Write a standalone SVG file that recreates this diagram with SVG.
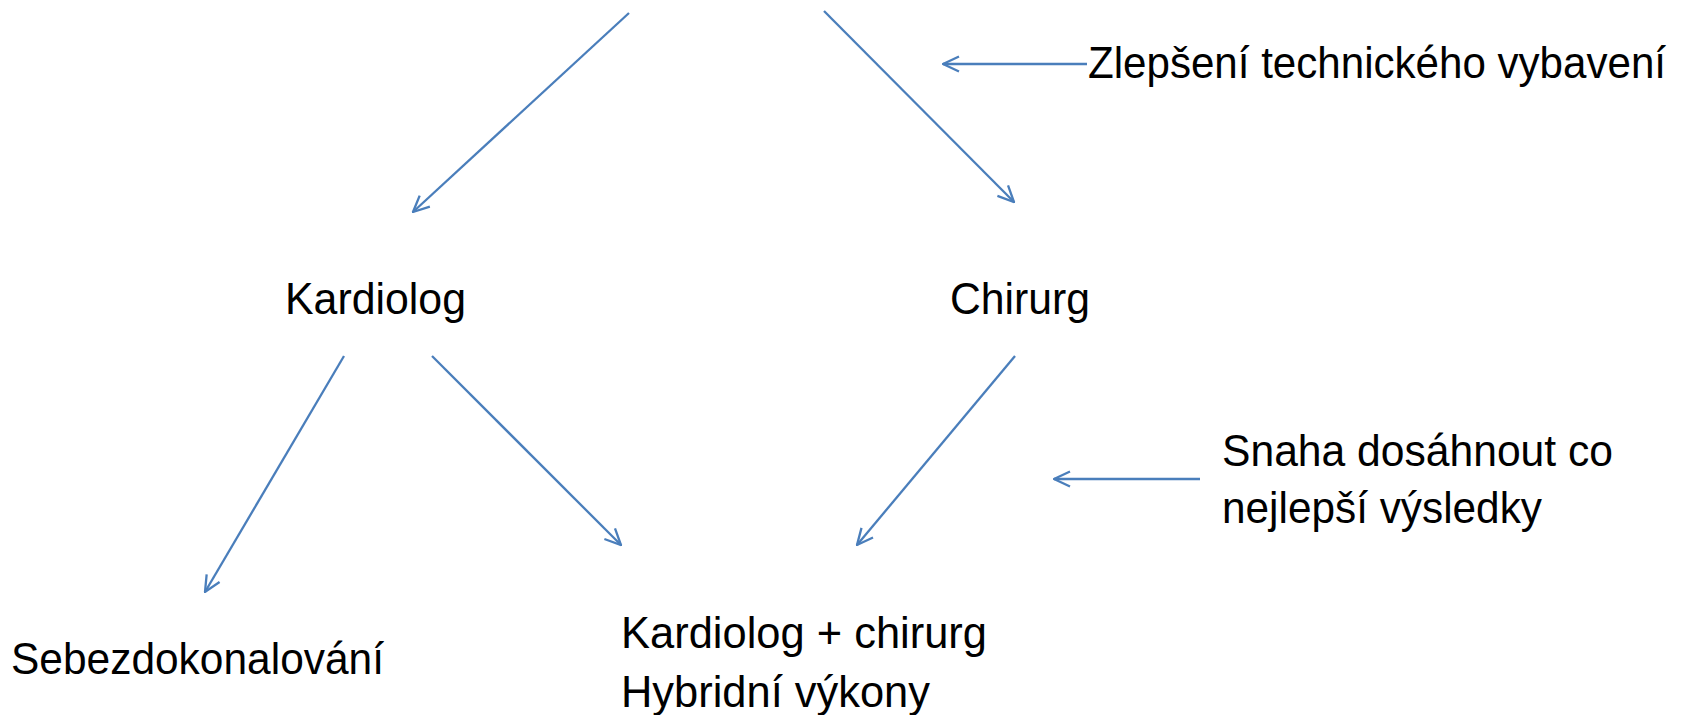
<svg xmlns="http://www.w3.org/2000/svg" width="1700" height="715" viewBox="0 0 1700 715">
<style>
.t{font-family:"Liberation Sans",Arial,sans-serif;font-size:44px;fill:#000}
.c{stroke:#4A7EBB;stroke-width:2.3;fill:none}
</style>
<defs>
<marker id="ah" viewBox="0 0 18 18" refX="17" refY="9" markerWidth="18" markerHeight="18" markerUnits="userSpaceOnUse" orient="auto">
<path d="M1,1.5 L17,9 L1,16.5" fill="none" stroke="#4A7EBB" stroke-width="2.3"/>
</marker>
</defs>
<rect width="1700" height="715" fill="#fff"/>
<g id="connectors">
<line class="c" x1="629" y1="13" x2="413" y2="212" marker-end="url(#ah)"/>
<line class="c" x1="824" y1="11" x2="1014" y2="202" marker-end="url(#ah)"/>
<line class="c" x1="1087" y1="64" x2="943" y2="64" marker-end="url(#ah)"/>
<line class="c" x1="344" y1="356" x2="205" y2="592" marker-end="url(#ah)"/>
<line class="c" x1="432" y1="356" x2="621" y2="545" marker-end="url(#ah)"/>
<line class="c" x1="1015" y1="356" x2="857" y2="545" marker-end="url(#ah)"/>
<line class="c" x1="1200" y1="479" x2="1054" y2="479" marker-end="url(#ah)"/>
</g>
<g id="zlepseni"><text class="t" x="1088" y="78" textLength="578" lengthAdjust="spacingAndGlyphs">Zlepšení technického vybavení</text></g>
<g id="kardiolog"><text class="t" x="285" y="314" textLength="181" lengthAdjust="spacingAndGlyphs">Kardiolog</text></g>
<g id="chirurg"><text class="t" x="950" y="314" textLength="140" lengthAdjust="spacingAndGlyphs">Chirurg</text></g>
<g id="snaha">
<text class="t" x="1222" y="466" textLength="391" lengthAdjust="spacingAndGlyphs">Snaha dosáhnout co</text>
<text class="t" x="1222" y="523" textLength="320" lengthAdjust="spacingAndGlyphs">nejlepší výsledky</text>
</g>
<g id="sebezdokonalovani"><text class="t" x="11" y="674" textLength="373" lengthAdjust="spacingAndGlyphs">Sebezdokonalování</text></g>
<g id="hybrid">
<text class="t" x="621" y="648" textLength="366" lengthAdjust="spacingAndGlyphs">Kardiolog + chirurg</text>
<text class="t" x="621" y="707" textLength="309" lengthAdjust="spacingAndGlyphs">Hybridní výkony</text>
</g>
</svg>
